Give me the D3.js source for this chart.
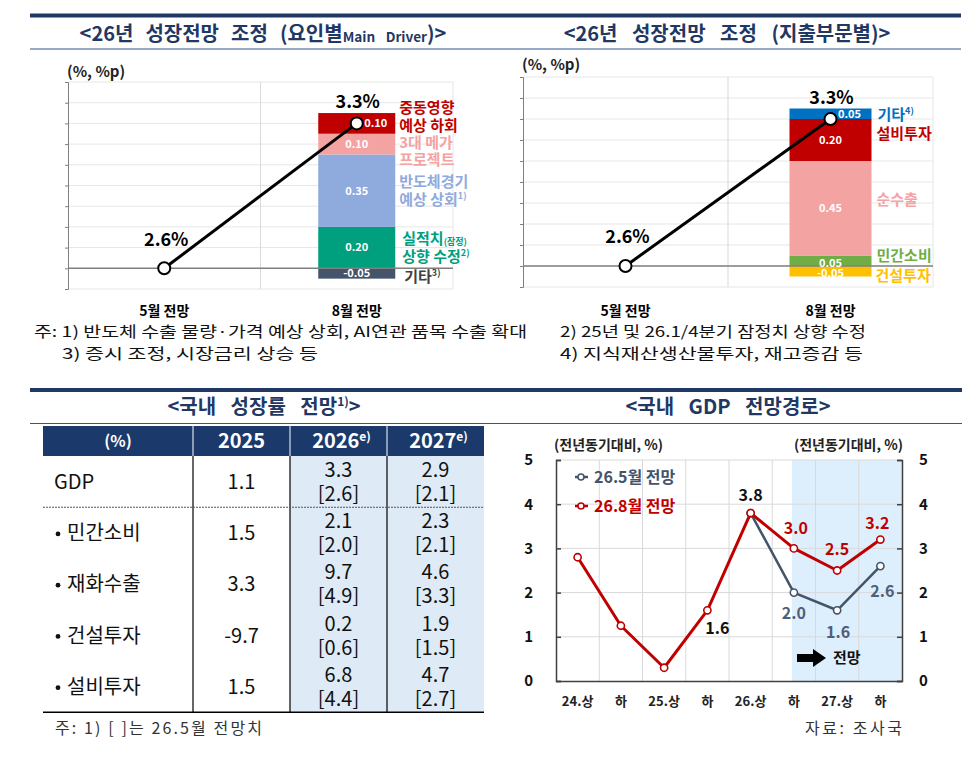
<!DOCTYPE html>
<html>
<head>
<meta charset="utf-8">
<script src="https://cdn.jsdelivr.net/npm/d3@7"></script>
<style>
  body { margin: 0; background: #fff; }
  text { font-family: 'Noto Sans CJK KR', 'Noto Sans', sans-serif; }
</style>
</head>
<body>
<svg id="chart" width="976" height="766"></svg>
<script>
// ---- data ----
let stages = ["5월 전망", "8월 전망"];
let stageGrowth = [2.6, 3.3];

// 요인별 (bottom to top, negatives first)
let driverNames = ["기타^{3)}", "실적치{(잠정)}|상향 수정^{2)}", "반도체경기|예상 상회^{1)}", "3대 메가|프로젝트", "중동영향|예상 하회"];
let driverValues = [-0.05, 0.20, 0.35, 0.10, 0.10];

// 지출부문별
let sectorNames = ["건설투자", "민간소비", "순수출", "설비투자", "기타^{4)}"];
let sectorValues = [-0.05, 0.05, 0.45, 0.20, 0.05];

let notesLeft = ["주: 1) 반도체 수출 물량·가격 예상 상회, AI연관 품목 수출 확대", "3) 증시 조정, 시장금리 상승 등"];
let notesRight = ["2) 25년 및 26.1/4분기 잠정치 상향 수정", "4) 지식재산생산물투자, 재고증감 등"];

// 국내 성장률 전망 table
let tableHeaders = ["(%)", "2025", "2026^{e)}", "2027^{e)}"];
let tableRows = ["GDP", "민간소비", "재화수출", "건설투자", "설비투자"];
let growth2025 = [1.1, 1.5, 3.3, -9.7, 1.5];
let growth2026 = [3.3, 2.1, 9.7, 0.2, 6.8];
let growth2026May = [2.6, 2.0, 4.9, 0.6, 4.4];
let growth2027 = [2.9, 2.3, 4.6, 1.9, 4.7];
let growth2027May = [2.1, 2.1, 3.3, 1.5, 2.7];

// 국내 GDP 전망경로
let halves = ["24.상", "하", "25.상", "하", "26.상", "하", "27.상", "하"];
let augPath = [2.8, 1.25, 0.3, 1.6, 3.8, 3.0, 2.5, 3.2];
let mayPath = [null, null, null, null, 3.8, 2.0, 1.6, 2.6];
let forecastFrom = 5;

// ---- style ----
let navy = "#1f3864";
let red = "#c00000";
let slate = "#44546a";

let svg = d3.select("#chart");
let fmt1 = v => v.toFixed(1);
let fmt2 = v => v.toFixed(2);

// text with {small} parts and ^{superscript} parts
let rich = function(sel, str, size, smallScale) {
  smallScale = smallScale || 0.6;
  let tokens = [];
  let buf = "";
  for (let i = 0; i < str.length; i++) {
    let c = str[i];
    if (c == "{" || (c == "^" && str[i + 1] == "{")) {
      if (buf) tokens.push([buf, "n"]);
      buf = "";
      let sup = c == "^";
      let s = sup ? i + 2 : i + 1;
      let j = str.indexOf("}", s);
      tokens.push([str.slice(s, j), sup ? "u" : "s"]);
      i = j;
    } else {
      buf += c;
    }
  }
  if (buf) tokens.push([buf, "n"]);
  let cur = 0;
  tokens.forEach(function(t) {
    let off = t[1] == "u" ? -size * 0.38 : (t[1] == "s" ? size * 0.06 : 0);
    let fs = t[1] == "n" ? size : size * (t[1] == "s" ? smallScale : 0.6);
    let ts = sel.append("tspan").style("font-size", fs + "px").text(t[0]);
    if (off - cur != 0) ts.attr("dy", off - cur);
    cur = off;
  });
  return sel;
};

// section headers
let header = function(y, x0, x1) {
  svg.append("rect").attr("x", x0).attr("y", y - 2).attr("width", x1 - x0).attr("height", 4).attr("fill", navy);
  svg.append("line").attr("x1", x0).attr("x2", x1).attr("y1", y + 33.5).attr("y2", y + 33.5)
     .attr("stroke", "#2f5597").attr("stroke-width", 1.2);
};
header(15.5, 30, 961);
header(390, 30, 962);

let title = function(cx, y, str, wordSpace, smallScale) {
  let t = svg.append("text")
     .attr("x", cx).attr("y", y)
     .attr("text-anchor", "middle")
     .attr("fill", navy)
     .style("font-weight", 700)
     .style("font-size", "20px")
     .style("word-spacing", wordSpace + "px");
  rich(t, str, 20, smallScale);
  return t;
};
title(263, 41, "<26년 성장전망 조정 (요인별{Main Driver})>", 7.5, 0.68);
title(727, 41, "<26년 성장전망 조정 (지출부문별)>", 10);
title(264, 414, "<국내 성장률 전망^{1)}>", 10);
title(728, 414, "<국내 GDP 전망경로>", 10);

// ---- stacked adjustment panels ----
function adjustmentPanel(p) {
  let g = svg.append("g");
  let y = d3.scaleLinear().domain([2.5, 3.5]).range([p.bottom, p.top]);
  let x = d3.scaleBand().domain(stages).range([p.left, p.right]);
  let base = stageGrowth[0];

  g.append("text").attr("x", p.unitX).attr("y", p.unitY)
   .style("font-size", "15px").style("font-weight", 700).attr("fill", "#222")
   .text("(%, %p)");

  // gridlines
  g.append("g").selectAll("line").data(d3.range(2.5, 3.5001, 0.1))
   .enter().append("line")
   .attr("x1", p.left).attr("x2", p.right)
   .attr("y1", d => y(d)).attr("y2", d => y(d))
   .attr("stroke", "#e6e6e6");
  g.append("line").attr("x1", x(stages[1])).attr("x2", x(stages[1]))
   .attr("y1", p.top).attr("y2", p.bottom).attr("stroke", "#d9d9d9");
  g.append("line").attr("x1", p.right).attr("x2", p.right)
   .attr("y1", p.top).attr("y2", p.bottom).attr("stroke", "#e6e6e6");

  let axis = d3.axisLeft(y).tickValues(d3.range(2.5, 3.5001, 0.1)).tickSize(3).tickFormat("");
  g.append("g").attr("transform", "translate(" + p.left + ",0)").call(axis)
   .call(s => s.select(".domain").attr("stroke", "#7f7f7f"))
   .call(s => s.selectAll(".tick line").attr("stroke", "#7f7f7f"));

  // stacked bar
  let barW = x.bandwidth() * 0.4;
  let bx = x(stages[1]) + x.bandwidth() / 2 - barW / 2;
  let posTop = base, negBot = base;
  let segs = p.values.map(function(v, i) {
    let s;
    if (v >= 0) { s = { y0: posTop, y1: posTop + v }; posTop += v; }
    else { s = { y0: negBot + v, y1: negBot }; negBot += v; }
    s.v = v; s.i = i;
    return s;
  });

  g.selectAll("rect.seg").data(segs).enter().append("rect")
   .attr("class", "seg")
   .attr("x", bx).attr("width", barW)
   .attr("y", d => y(d.y1)).attr("height", d => y(d.y0) - y(d.y1))
   .attr("fill", d => p.colors[d.i]);

  // baseline at May forecast
  g.append("line").attr("x1", p.left).attr("x2", p.right)
   .attr("y1", y(base)).attr("y2", y(base))
   .attr("stroke", "#808080").attr("stroke-width", 1.5);

  // value labels
  g.selectAll("text.val").data(segs).enter().append("text")
   .attr("class", "val")
   .attr("x", d => bx + barW / 2 + (p.valDx[d.i] || 0))
   .attr("y", d => y((d.y0 + d.y1) / 2) + (p.valDy[d.i] || 0))
   .attr("dy", "0.35em")
   .attr("text-anchor", "middle")
   .attr("fill", "#fff")
   .style("font-size", "11px").style("font-weight", 700)
   .text(d => fmt2(d.v));

  // category labels to the right of the bar
  segs.forEach(function(d) {
    let lines = p.names[d.i].split("|");
    let cy = y((d.y0 + d.y1) / 2) + p.nameDy[d.i];
    let lh = 17.5;
    lines.forEach(function(line, k) {
      let t = g.append("text")
        .attr("x", bx + barW + p.nameDx[d.i])
        .attr("y", cy + (k - (lines.length - 1) / 2) * lh)
        .attr("dy", "0.36em")
        .attr("fill", p.textColors[d.i])
        .style("font-size", "15px").style("font-weight", 700);
      rich(t, line, 15);
    });
  });

  // growth line
  let pts = stages.map((s, i) => [x(s) + x.bandwidth() / 2, y(stageGrowth[i])]);
  g.append("path").attr("d", d3.line()(pts))
   .attr("stroke", "#000").attr("stroke-width", 3).attr("fill", "none");
  g.selectAll("circle").data(pts).enter().append("circle")
   .attr("cx", d => d[0]).attr("cy", d => d[1]).attr("r", 6)
   .attr("fill", "#fff").attr("stroke", "#000").attr("stroke-width", 2);

  g.append("text").attr("x", pts[0][0] + 2).attr("y", pts[0][1] - 29).attr("dy", "0.35em")
   .attr("text-anchor", "middle").style("font-size", "18px").style("font-weight", 700)
   .text(fmt1(stageGrowth[0]) + "%");
  g.append("text").attr("x", pts[1][0] + 1).attr("y", y(posTop) - 11).attr("dy", "0.35em")
   .attr("text-anchor", "middle").style("font-size", "18px").style("font-weight", 700)
   .text(fmt1(stageGrowth[1]) + "%");

  // x labels
  g.selectAll("text.cat").data(stages).enter().append("text")
   .attr("class", "cat")
   .attr("x", d => x(d) + x.bandwidth() / 2).attr("y", 316)
   .attr("text-anchor", "middle").style("font-size", "14px").style("font-weight", 700)
   .text(d => d);
}

adjustmentPanel({
  left: 68, right: 453, top: 82, bottom: 289, unitX: 67, unitY: 77,
  values: driverValues, names: driverNames,
  colors: ["#44546a", "#00a07e", "#8faadc", "#f4a3a3", "#c00000"],
  textColors: ["#404040", "#00a07e", "#8faadc", "#f4a3a3", "#c00000"],
  valDx: [0, 0, 0, 0, 19], valDy: [0, 0, 0, 0, 0],
  nameDx: [9, 7, 4, 4, 4], nameDy: [3, 0, 0, 7, -7]
});

adjustmentPanel({
  left: 523, right: 933, top: 77, bottom: 287, unitX: 522, unitY: 70,
  values: sectorValues, names: sectorNames,
  colors: ["#ffc000", "#70ad47", "#f4a3a3", "#c00000", "#0070c0"],
  textColors: ["#ffc000", "#70ad47", "#f4a3a3", "#c00000", "#0070c0"],
  valDx: [0, 0, 0, 0, 19], valDy: [2, 2, 0, 0, 0],
  nameDx: [4, 5, 5, 5, 6], nameDy: [4, -5, -9, -6, 1]
});

// footnotes
let note = function(x, y, str, w) {
  svg.append("text").attr("x", x).attr("y", y)
     .attr("fill", "#111").style("font-size", "15px")
     .attr("textLength", w).attr("lengthAdjust", "spacingAndGlyphs")
     .text(str);
};
note(34, 337, notesLeft[0], 493);
note(62, 359, notesLeft[1], 256);
note(560, 337, notesRight[0], 306);
note(560, 359, notesRight[1], 303);

// ---- table ----
(function() {
  let g = svg.append("g");
  let cols = [43, 193, 290, 387, 484];
  let top = 426, headH = 30, rowH = 51.25;
  let bodyTop = top + headH;
  let bottom = bodyTop + rowH * tableRows.length;
  let fs = 20;

  g.append("rect").attr("x", cols[2]).attr("y", bodyTop)
   .attr("width", cols[4] - cols[2]).attr("height", bottom - bodyTop).attr("fill", "#deebf7");
  g.append("rect").attr("x", cols[0]).attr("y", top)
   .attr("width", cols[4] - cols[0]).attr("height", headH).attr("fill", "#1b3a6b");

  [1, 2, 3].forEach(function(k) {
    g.append("line").attr("x1", cols[k]).attr("x2", cols[k]).attr("y1", top).attr("y2", bodyTop)
     .attr("stroke", "#fff").attr("stroke-width", 1);
    g.append("line").attr("x1", cols[k]).attr("x2", cols[k]).attr("y1", bodyTop).attr("y2", bottom)
     .attr("stroke", "#000").attr("stroke-width", 1.2);
  });

  tableHeaders.forEach(function(h, k) {
    let t = g.append("text").attr("x", (cols[k] + cols[k + 1]) / 2 + (k > 1 ? 3 : 0))
      .attr("y", top + headH / 2).attr("dy", "0.36em")
      .attr("text-anchor", "middle").attr("fill", "#fff")
      .style("font-weight", 700).style("font-size", k == 0 ? "16px" : "20px");
    rich(t, h, k == 0 ? 16 : 20);
  });

  g.append("line").attr("x1", cols[0]).attr("x2", cols[4])
   .attr("y1", bodyTop + rowH).attr("y2", bodyTop + rowH)
   .attr("stroke", "#555").attr("stroke-width", 1).attr("stroke-dasharray", "2,1");
  g.append("line").attr("x1", cols[0]).attr("x2", cols[4])
   .attr("y1", bottom).attr("y2", bottom)
   .attr("stroke", "#000").attr("stroke-width", 1.5);

  tableRows.forEach(function(r, i) {
    let cy = bodyTop + rowH * (i + 0.5);
    if (i == 0) {
      g.append("text").attr("x", 54).attr("y", cy).attr("dy", "0.36em")
       .style("font-size", fs + "px").attr("fill", "#111").text(r);
    } else {
      g.append("circle").attr("cx", 58).attr("cy", cy + 1).attr("r", 2.4).attr("fill", "#111");
      g.append("text").attr("x", 67).attr("y", cy).attr("dy", "0.36em")
       .style("font-size", fs + "px").attr("fill", "#111").text(r);
    }
    g.append("text").attr("x", (cols[1] + cols[2]) / 2).attr("y", cy).attr("dy", "0.36em")
     .attr("text-anchor", "middle").style("font-size", fs + "px").attr("fill", "#111")
     .text(fmt1(growth2025[i]));
    [[growth2026, growth2026May], [growth2027, growth2027May]].forEach(function(pair, k) {
      let cx = (cols[2 + k] + cols[3 + k]) / 2;
      g.append("text").attr("x", cx).attr("y", cy - 12).attr("dy", "0.36em")
       .attr("text-anchor", "middle").style("font-size", fs + "px").attr("fill", "#111")
       .text(fmt1(pair[0][i]));
      g.append("text").attr("x", cx).attr("y", cy + 12).attr("dy", "0.36em")
       .attr("text-anchor", "middle").style("font-size", fs + "px").attr("fill", "#111")
       .text("[" + fmt1(pair[1][i]) + "]");
    });
  });

  g.append("text").attr("x", 55).attr("y", 734).style("font-size", "16px").attr("fill", "#333")
   .attr("textLength", 207).attr("lengthAdjust", "spacing")
   .text("주: 1) [ ]는 26.5월 전망치");
})();

// ---- GDP path line chart ----
(function() {
  let g = svg.append("g");
  let left = 556, right = 902, top = 460, bottom = 681;
  let x = d3.scaleBand().domain(d3.range(halves.length)).range([left, right]);
  let y = d3.scaleLinear().domain([0, 5]).range([bottom, top]);
  let cx = i => x(i) + x.bandwidth() / 2;

  g.append("rect").attr("x", cx(forecastFrom) - 2).attr("y", top)
   .attr("width", right - cx(forecastFrom) + 2).attr("height", bottom - top)
   .attr("fill", "#ddeefc");

  g.append("g").selectAll("line").data(d3.range(1, halves.length)).enter().append("line")
   .attr("x1", d => x(d)).attr("x2", d => x(d)).attr("y1", top).attr("y2", bottom)
   .attr("stroke", "#d9d9d9");
  g.append("g").selectAll("line").data([1, 2, 3, 4, 5]).enter().append("line")
   .attr("x1", left).attr("x2", right).attr("y1", d => y(d)).attr("y2", d => y(d))
   .attr("stroke", "#d9d9d9");

  let styleAxis = function(s) {
    s.select(".domain").attr("stroke", "#404040").attr("stroke-width", 1.5);
    s.selectAll(".tick line").attr("stroke", "#404040").attr("stroke-width", 1.5);
    s.selectAll(".tick text").style("font-size", "15px").style("font-weight", 700).attr("fill", "#111");
  };
  g.append("g").attr("transform", "translate(" + left + ",0)")
   .call(d3.axisLeft(y).ticks(5).tickSize(-5).tickPadding(23).tickSizeOuter(-5)).call(styleAxis);
  g.append("g").attr("transform", "translate(" + right + ",0)")
   .call(d3.axisRight(y).ticks(5).tickSize(-5).tickPadding(17).tickSizeOuter(-5)).call(styleAxis);
  g.append("g").attr("transform", "translate(0," + bottom + ")")
   .call(d3.axisBottom(x).tickSize(0).tickPadding(16).tickFormat(i => halves[i]))
   .call(s => {
     s.select(".domain").attr("stroke", "#404040").attr("stroke-width", 1.5);
     s.selectAll(".tick text").style("font-size", "13px").style("font-weight", 700).attr("fill", "#222");
   });

  g.append("text").attr("x", 554).attr("y", 450).style("font-size", "14px").style("font-weight", 700)
   .attr("fill", "#222").text("(전년동기대비, %)");
  g.append("text").attr("x", 903).attr("y", 450).attr("text-anchor", "end")
   .style("font-size", "14px").style("font-weight", 700).attr("fill", "#222").text("(전년동기대비, %)");

  let line = d3.line().defined(d => d != null).x((d, i) => cx(i)).y(d => y(d));
  let series = [
    { values: mayPath, color: slate, width: 2.5 },
    { values: augPath, color: red, width: 3 }
  ];
  series.forEach(function(s) {
    g.append("path").attr("d", line(s.values)).attr("fill", "none")
     .attr("stroke", s.color).attr("stroke-width", s.width).attr("stroke-linejoin", "round");
  });
  series.forEach(function(s) {
    g.selectAll(null).data(s.values.map((v, i) => [v, i]).filter(d => d[0] != null))
     .enter().append("circle")
     .attr("cx", d => cx(d[1])).attr("cy", d => y(d[0])).attr("r", 3.6)
     .attr("fill", "#fff").attr("stroke", s.color).attr("stroke-width", 1.6);
  });

  // point labels
  let labels = [
    { s: augPath, i: 3, dx: 10, dy: 18, c: "#111" },
    { s: augPath, i: 4, dx: 0, dy: -18, c: "#111" },
    { s: augPath, i: 5, dx: 2, dy: -20, c: red },
    { s: augPath, i: 6, dx: 0, dy: -21, c: red },
    { s: augPath, i: 7, dx: -3, dy: -16, c: red },
    { s: mayPath, i: 5, dx: 0, dy: 21, c: "#4f5f7a" },
    { s: mayPath, i: 6, dx: 1, dy: 22, c: "#4f5f7a" },
    { s: mayPath, i: 7, dx: 2, dy: 25, c: "#4f5f7a" }
  ];
  labels.forEach(function(l) {
    g.append("text").attr("x", cx(l.i) + l.dx).attr("y", y(l.s[l.i]) + l.dy).attr("dy", "0.36em")
     .attr("text-anchor", "middle").attr("fill", l.c)
     .style("font-size", "16px").style("font-weight", 700)
     .text(fmt1(l.s[l.i]));
  });

  // legend
  [["26.5월 전망", slate], ["26.8월 전망", red]].forEach(function(d, k) {
    let ly = 477 + k * 29;
    g.append("line").attr("x1", 575).attr("x2", 588).attr("y1", ly).attr("y2", ly)
     .attr("stroke", d[1]).attr("stroke-width", 2.5);
    g.append("circle").attr("cx", 581).attr("cy", ly).attr("r", 3)
     .attr("fill", "#fff").attr("stroke", d[1]).attr("stroke-width", 1.6);
    g.append("text").attr("x", 594).attr("y", ly).attr("dy", "0.36em").attr("fill", d[1])
     .style("font-size", "16px").style("font-weight", 700).text(d[0]);
  });

  // forecast arrow
  g.append("path")
   .attr("d", "M797,654 L813,654 L813,649 L826,658 L813,667 L813,662 L797,662 Z")
   .attr("fill", "#000");
  g.append("text").attr("x", 833).attr("y", 658).attr("dy", "0.36em")
   .style("font-size", "15px").style("font-weight", 700).attr("fill", "#111").text("전망");

  g.append("text").attr("x", 902).attr("y", 734).attr("text-anchor", "end")
   .style("font-size", "16px").attr("fill", "#333")
   .attr("textLength", 97).attr("lengthAdjust", "spacing")
   .text("자료: 조사국");
})();
</script>
</body>
</html>
